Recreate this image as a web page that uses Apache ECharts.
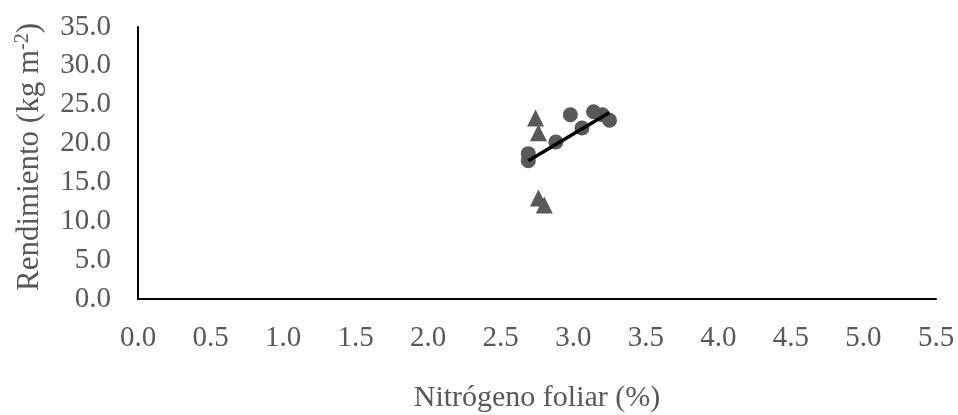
<!DOCTYPE html>
<html>
<head>
<meta charset="utf-8">
<script src="https://cdn.jsdelivr.net/npm/echarts@6/dist/echarts.min.js"></script>
<style>
  html, body { margin: 0; padding: 0; background: #fff; }
  #chart { width: 958px; height: 415px; }
</style>
</head>
<body>
<div id="chart"></div>
<script>
// Leaf nitrogen (%) vs yield (kg m-2)
const circleN = [2.69, 2.69, 2.88, 2.98, 3.06, 3.14, 3.20, 3.25];
const circleYield = [18.7, 17.8, 20.2, 23.7, 22.0, 24.1, 23.7, 23.0];
const triangleN = [2.74, 2.76, 2.76, 2.80];
const triangleYield = [23.3, 21.4, 13.0, 12.1];

// Linear trend of the circle series (end points)
const trendN = [2.69, 3.25];
const trendYield = [17.8, 24.0];

const xTicks = { min: 0, max: 5.5, interval: 0.5 };
const yTicks = { min: 0, max: 35, interval: 5 };

const font = '"Liberation Serif", "Times New Roman", serif';
const grey = '#595959';

const chart = echarts.init(document.getElementById('chart'));
chart.setOption({
  animation: false,
  textStyle: { fontFamily: font },
  grid: {
    left: 138, right: 22, top: 27, bottom: 116,
    containLabel: false,
    outerBoundsMode: 'none'
  },
  xAxis: {
    type: 'value',
    min: xTicks.min, max: xTicks.max, interval: xTicks.interval,
    name: 'Nitrógeno foliar (%)',
    nameLocation: 'middle',
    nameGap: 84,
    nameTextStyle: { fontFamily: font, fontSize: 30, color: grey },
    axisLine: { show: true, onZero: false, lineStyle: { color: '#000', width: 2 } },
    axisTick: { show: false },
    splitLine: { show: false },
    axisLabel: {
      fontFamily: font, fontSize: 29, color: grey, margin: 25,
      formatter: v => v.toFixed(1)
    }
  },
  yAxis: {
    type: 'value',
    min: yTicks.min, max: yTicks.max, interval: yTicks.interval,
    name: '{a|Rendimiento (kg m}{s|-2}{a|)}',
    nameLocation: 'middle',
    nameGap: 92,
    nameTextStyle: {
      fontFamily: font, color: grey,
      padding: [0, 0, 0, 12],
      rich: {
        a: { fontFamily: font, fontSize: 31, color: grey },
        s: { fontFamily: font, fontSize: 20, color: grey, padding: [0, 0, 13, 0] }
      }
    },
    axisLine: { show: true, lineStyle: { color: '#000', width: 2 } },
    axisTick: { show: false },
    splitLine: { show: false },
    axisLabel: {
      fontFamily: font, fontSize: 29, color: grey, margin: 27,
      formatter: v => v.toFixed(1)
    }
  },
  series: [
    {
      type: 'scatter',
      data: circleN.map((x, i) => [x, circleYield[i]]),
      symbol: 'circle',
      symbolSize: 15,
      itemStyle: { color: grey, opacity: 1 }
    },
    {
      type: 'scatter',
      data: triangleN.map((x, i) => [x, triangleYield[i]]),
      symbol: 'triangle',
      symbolSize: [17, 17],
      itemStyle: { color: grey, opacity: 1 }
    },
    {
      type: 'line',
      data: trendN.map((x, i) => [x, trendYield[i]]),
      showSymbol: false,
      symbol: 'none',
      lineStyle: { color: '#000', width: 3.5 },
      z: 5
    }
  ]
});
</script>
</body>
</html>
